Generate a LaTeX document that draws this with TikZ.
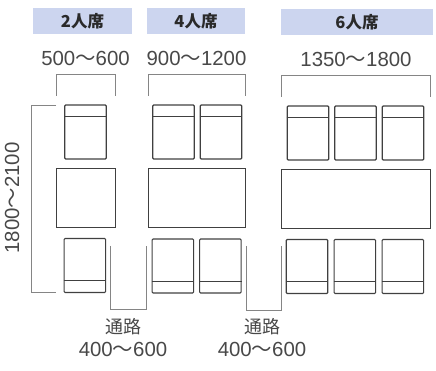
\documentclass[tikz,border=0pt]{standalone}
\usepackage{fontspec}
\setmainfont{Liberation Sans}
\newfontfamily\cjk{Noto Sans CJK JP}
\definecolor{headblue}{HTML}{CCD5EF}
\definecolor{dimtext}{HTML}{484848}
\definecolor{headtext}{HTML}{2A2A2A}
\definecolor{furn}{HTML}{404040}
\definecolor{dimline}{HTML}{858585}
\newcommand{\wave}{{\cjk 〜}}
\tikzset{
  x=1pt,y=-1pt,
  head/.style={fill=headblue,draw=none,minimum height=26pt,inner sep=0pt,text=headtext,font=\cjk\bfseries\fontsize{16.5}{16.5}\selectfont},
  dimlabel/.style={inner sep=0pt,text=dimtext,font=\fontsize{20.4}{20.4}\selectfont},
  aisle/.style={inner sep=0pt,text=dimtext,font=\cjk\fontsize{18}{18}\selectfont},
  chair/.style={draw=furn,line width=1.1pt,rounded corners=1pt,minimum width=41.5pt,minimum height=54pt,inner sep=0pt},
  tabletop/.style={draw=furn,line width=.9pt,minimum height=59pt,inner sep=0pt},
  chairline/.style={draw=furn,line width=1.1pt},
  dimbracket/.style={draw=dimline,line width=.8pt}
}
\begin{document}
\begin{tikzpicture}
\useasboundingbox (0,0) rectangle (436,371);
% headers
\node[head,minimum width=99pt]  (h2) at (82.5,21)  {2人席};
\node[head,minimum width=98pt]  (h4) at (196,21)   {4人席};
\node[head,minimum width=152pt] (h6) at (357,22)   {6人席};
% width labels
\node[dimlabel] (w2) at (85.5,58)  {500\wave600};
\node[dimlabel] (w4) at (196.5,58) {900\wave1200};
\node[dimlabel] (w6) at (356,59) {1350\wave1800};
\node[dimlabel,rotate=90] (d) at (12,198) {1800\wave2100};
% tables
\node[tabletop,minimum width=59pt] (t2) at (85.5,198.3) {};
\node[tabletop,minimum width=97pt]   (t4) at (196.5,198.3) {};
\node[tabletop,minimum width=149pt]  (t6) at (355.5,199.3) {};
% top chairs
\foreach \n/\cx/\cy in {a/85.5/132,b/173.5/132,c/221/132,d/308/133,e/355.5/133,f/403/133}{
  \node[chair] (top\n) at (\cx,\cy) {};
  \draw[chairline] ([yshift=-12pt]top\n.north west) -- ([yshift=-12pt]top\n.north east);
}
% bottom chairs
\foreach \n/\cx/\cy in {a/84.8/265.5,b/172.8/266,c/220.3/266,d/307/266.5,e/354.8/266.5,f/402.8/266.5}{
  \node[chair] (bot\n) at (\cx,\cy) {};
  \draw[chairline] ([yshift=12.5pt]bot\n.south west) -- ([yshift=12.5pt]bot\n.south east);
}
% brackets
\coordinate (b2a) at (56,96);  \coordinate (b2b) at (115.5,96);
\coordinate (b4a) at (148,96); \coordinate (b4b) at (245.5,96);
\coordinate (b6a) at (281.5,97); \coordinate (b6b) at (430,97);
\draw[dimbracket] (b2a) -- (56,74) -- (115.5,74) -- (b2b);
\draw[dimbracket] (b4a) -- (148,74) -- (245.5,74) -- (b4b);
\draw[dimbracket] (b6a) -- (281.5,75) -- (430,75) -- (b6b);
\coordinate (la) at (56,105); \coordinate (lb) at (56,292);
\draw[dimbracket] (la) -- (31,105) -- (31,292) -- (lb);
\coordinate (p1a) at (110.5,246); \coordinate (p1b) at (146,246);
\coordinate (p2a) at (246,246);   \coordinate (p2b) at (281,246);
\draw[dimbracket] (p1a) -- (110.5,309.5) -- (146,309.5) -- (p1b);
\draw[dimbracket] (p2a) -- (246,310) -- (281,310) -- (p2b);
% aisle labels
\node[aisle] (a1) at (123,327) {通路};
\node[dimlabel] (a1n) at (123,349) {400\wave600};
\node[aisle] (a2) at (262,327) {通路};
\node[dimlabel] (a2n) at (262,349) {400\wave600};
\end{tikzpicture}
\end{document}
